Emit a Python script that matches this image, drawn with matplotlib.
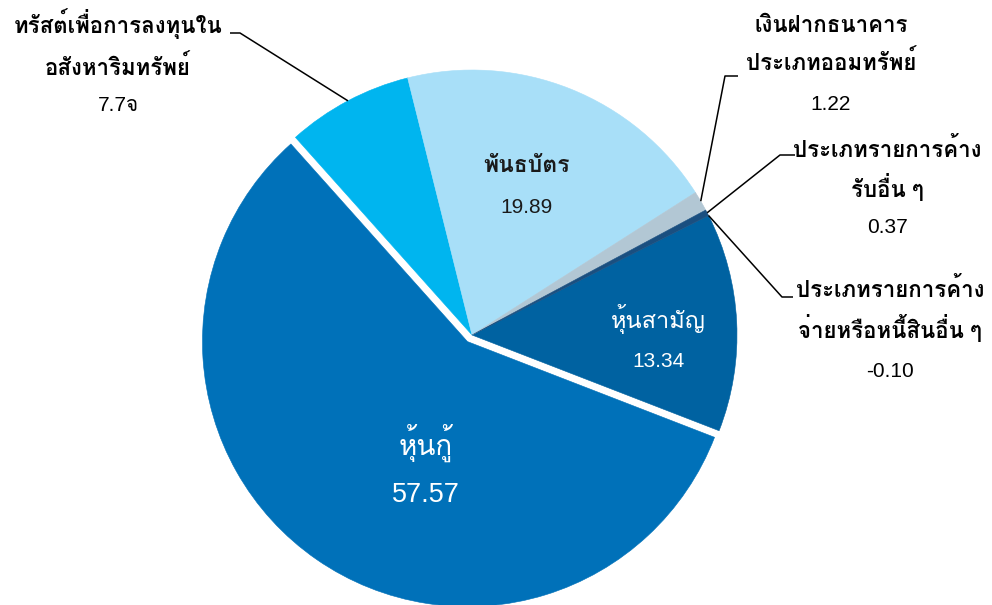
import matplotlib
matplotlib.use('Agg')
import numpy as np
import matplotlib.pyplot as plt

plt.rcParams['font.family'] = ['Liberation Sans', 'Loma']

# สัดส่วนการลงทุน (%)
names = ['หุ้นสามัญ', 'หุ้นกู้', 'ทรัสต์เพื่อการลงทุนใน\nอสังหาริมทรัพย์', 'พันธบัตร',
         'เงินฝากธนาคาร\nประเภทออมทรัพย์', 'ประเภทรายการค้าง\nรับอื่น ๆ',
         'ประเภทรายการค้าง\nจ่ายหรือหนี้สินอื่น ๆ']
values = [13.34, 57.57, 7.71, 19.89, 1.22, 0.37, -0.10]
value_text = ['13.34', '57.57', '7.7จ', '19.89', '1.22', '0.37', '-0.10']
colors = ['#0062A1', '#0071B9', '#00B5EF', '#A8DFF8', '#B2C7D4', '#1A4F80', '#7F7F7F']

W, H = 992, 605
fig = plt.figure(figsize=(W / 100, H / 100), dpi=100)
ax = fig.add_axes([0, 0, 1, 1])

def Y(y):
    return H - y

cx, cy, R = 472, Y(335), 265
sizes = [max(v, 0) for v in values]
# explode ของ pie เป็นหน่วยข้อมูล (ที่นี่คือพิกเซล)
explode = [0, 8, 0, 0, 0, 0, 0]
wedges, _ = ax.pie(sizes, colors=colors, explode=explode, startangle=26.8,
                   counterclock=False, center=(cx, cy), radius=R,
                   wedgeprops=dict(linewidth=0.4))
for w, v in zip(wedges, values):
    w.set_edgecolor(w.get_facecolor())
    if v <= 0:
        w.set_linewidth(0)

ax.set_xlim(0, W)
ax.set_ylim(0, H)
ax.set_aspect('equal')
ax.axis('off')

# ป้ายกำกับภายในวงกลม: (x, baseline ชื่อ, baseline ค่า, ขนาดชื่อ, ขนาดค่า, สี, ตัวหนา)
inner = {
    0: (658, 328, 367, 17, 15, 'white', 'normal'),
    1: (426, 455, 502, 20, 19.5, 'white', 'normal'),
    3: (527, 172, 213, 16.5, 15, '#1a1a1a', 'bold'),
}
for i, (x, yb1, yb2, fs1, fs2, c, fw) in inner.items():
    ax.text(x, Y(yb1), names[i], ha='center', va='baseline', fontsize=fs1,
            color=c, fontweight=fw)
    ax.text(x, Y(yb2), value_text[i], ha='center', va='baseline', fontsize=fs2,
            color=c)

# ป้ายกำกับภายนอกพร้อมเส้นชี้: (x, baselines, จุดหักมุม, ปลายเส้น)
outer = {
    2: (118, (33, 75, 111), (240, 33), (230, 33)),
    4: (831, (32, 70, 110), (725, 76), (738, 76)),
    5: (887, (157, 197, 233), (780, 155), (795, 155)),
    6: (890, (297, 338, 377), (782, 297), (793, 297)),
}
for i, (x, bls, elbow, end) in outer.items():
    lines = names[i].split('\n')
    for ln, yb in zip(lines, bls[:2]):
        ax.text(x, Y(yb), ln, ha='center', va='baseline', fontsize=16,
                color='black', fontweight='bold')
    ax.text(x, Y(bls[2]), value_text[i], ha='center', va='baseline',
            fontsize=15, color='black')
    w = wedges[i]
    th = np.deg2rad((w.theta1 + w.theta2) / 2)
    wx, wy = w.center
    px, py = wx + R * np.cos(th), wy + R * np.sin(th)
    ax.plot([px, elbow[0], end[0]], [py, Y(elbow[1]), Y(end[1])],
            color='black', lw=1.1, solid_capstyle='butt')

fig.savefig('out.png', dpi=100)
